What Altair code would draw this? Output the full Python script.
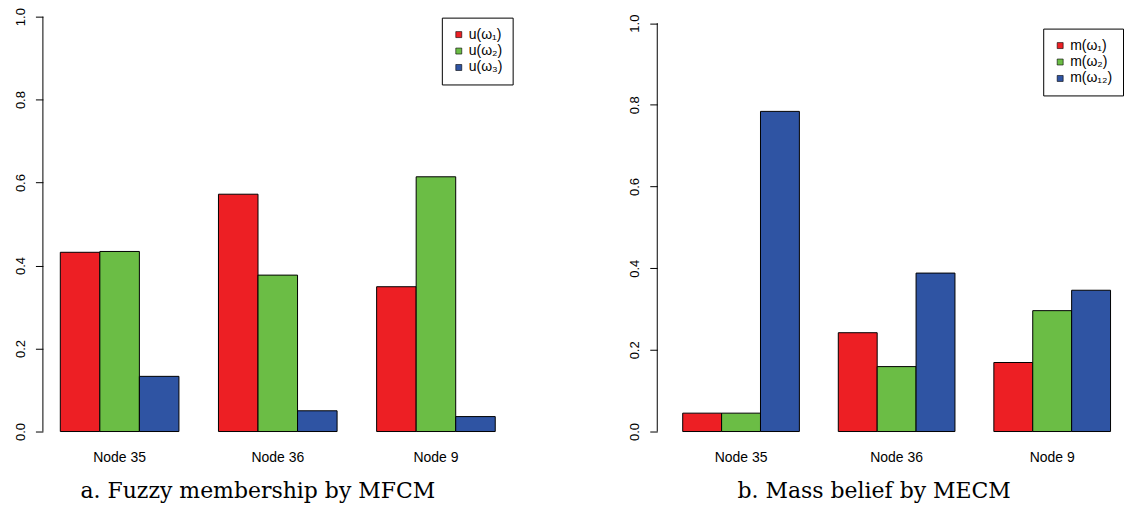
import altair as alt
import pandas as pd

nodes = ["Node 35", "Node 36", "Node 9"]

mfcm_series = ["u(ω₁)", "u(ω₂)", "u(ω₃)"]
mfcm_w1 = [0.432, 0.572, 0.349]
mfcm_w2 = [0.434, 0.377, 0.614]
mfcm_w3 = [0.133, 0.050, 0.036]

mecm_series = ["m(ω₁)", "m(ω₂)", "m(ω₁₂)"]
mecm_w1 = [0.045, 0.242, 0.169]
mecm_w2 = [0.045, 0.159, 0.296]
mecm_w12 = [0.784, 0.388, 0.346]

y_ticks = [0.0, 0.2, 0.4, 0.6, 0.8, 1.0]
colors = ["#ED1F24", "#6BBD45", "#2F54A3"]

captions = ["a. Fuzzy membership by MFCM", "b. Mass belief by MECM"]


def make_df(series, cols):
    rows = []
    for k, (s, vals) in enumerate(zip(series, cols)):
        for n, v in zip(nodes, vals):
            rows.append({"slot": f"{n}|{k}", "node": n, "series": s, "value": v})
    return pd.DataFrame(rows)


def slot_domain(series):
    dom = []
    for i, n in enumerate(nodes):
        if i > 0:
            dom.append(f"gap{i}")
        for k in range(len(series)):
            dom.append(f"{n}|{k}")
    return dom


def panel(df, series, ymax, width, pad_outer, align, lx, ly, row_pad, caption, dx):
    yscale = alt.Scale(domain=[0, ymax], nice=False, zero=True)
    bars = alt.Chart(df).mark_bar(stroke="black", strokeWidth=1).encode(
        x=alt.X(
            "slot:N",
            scale=alt.Scale(domain=slot_domain(series), paddingInner=0,
                            paddingOuter=pad_outer, align=align),
            axis=alt.Axis(
                title=None, values=[f"{n}|1" for n in nodes],
                labelExpr="split(datum.value, '|')[0]",
                labelAngle=0, ticks=False, domain=False,
                labelPadding=19, labelFontSize=14, labelFont="Liberation Sans",
                labelColor="black",
            ),
        ),
        y=alt.Y(
            "value:Q",
            scale=yscale,
            axis=alt.Axis(
                title=None, values=y_ticks, format=".1f", grid=False,
                domain=False, tickColor="black", tickSize=7.5, tickWidth=1,
                labelAngle=270, labelAlign="center", labelBaseline="bottom",
                labelPadding=8, labelFontSize=13, labelFont="Liberation Sans",
                labelColor="black",
            ),
        ),
        color=alt.Color(
            "series:N",
            sort=series,
            scale=alt.Scale(domain=series, range=colors),
            legend=alt.Legend(
                title=None, orient="none", legendX=lx, legendY=ly,
                strokeColor="black", padding=10,
                fillColor="white", symbolType="square", symbolSize=36,
                symbolStrokeColor="black", symbolStrokeWidth=0.6,
                labelFont="Liberation Sans", labelFontSize=14,
                labelColor="black", rowPadding=row_pad, labelOffset=3,
            ),
        ),
    )
    axis_df = pd.DataFrame({"lo": [y_ticks[0]], "hi": [y_ticks[-1]]})
    axis_line = alt.Chart(axis_df).mark_rule(color="black", strokeWidth=1).encode(
        x=alt.value(0),
        y=alt.Y("lo:Q", scale=yscale),
        y2="hi:Q",
    )
    return alt.layer(bars, axis_line).properties(
        width=width,
        height=416,
        title=alt.TitleParams(
            text=caption, orient="bottom", anchor="middle",
            font="DejaVu Serif", fontSize=22, fontWeight="normal",
            color="black", offset=17, dx=dx,
        ),
    )


left = panel(make_df(mfcm_series, [mfcm_w1, mfcm_w2, mfcm_w3]), mfcm_series,
             1.0, 471, 0.44, 0.5, 400, 1, 2.5, captions[0], -20)
right = panel(make_df(mecm_series, [mecm_w1, mecm_w2, mecm_w12]), mecm_series,
              1.016, 459, 0.385, 0.85, 387, 12, 2.5, captions[1], -12)

chart = alt.hconcat(left, right, spacing=115).resolve_scale(
    color="independent", y="independent", x="independent"
).configure_view(stroke=None).properties(
    background="white",
    padding={"left": 6, "top": -2, "right": 0, "bottom": 0},
)

chart.save("out.html", embed_options={"renderer": "svg", "actions": False})
